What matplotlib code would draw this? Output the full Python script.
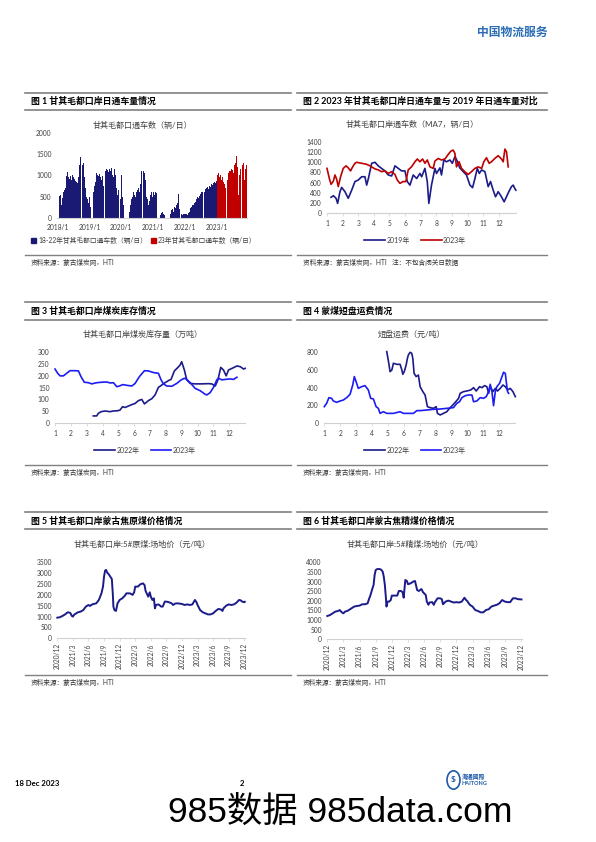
import matplotlib.pyplot as plt
from matplotlib.lines import Line2D
from matplotlib.patches import Circle

plt.rcParams['font.family'] = ['Lato', 'Noto Sans CJK SC', 'DejaVu Sans']

W, H = 596, 842
NAVY = '#1b1b8a'
BAR_NAVY = '#1a1a75'
RED = '#c00000'
BLUE = '#1c1cf5'
RULE = '#808080'
AXIS = '#d0d0d0'
TXT = '#404040'

# ---- fig 1: daily trucks, one value per ten days ----
years = [2018, 2019, 2020, 2021, 2022, 2023]
trucks_2018 = [500, 450, 520, 550, 300, 480, 600, 650, 700, 850, 980, 1080,
               950, 920, 980, 900, 1000, 950, 880, 920, 870, 850, 820, 950,
               1250, 1440, 1350, 1300, 1250, 1280, 950, 700, 500, 450, 350, 300]
trucks_2019 = [500, 250, 0, 0, 600, 750, 850, 1050, 1100, 1000, 980, 1020,
               950, 900, 980, 750, 850, 1050, 1100, 1150, 1120, 1080, 1150, 1100,
               1170, 1080, 1000, 950, 1150, 1000, 700, 550, 650, 850, 700, 450]
trucks_2020 = [1000, 500, 300, 0, 0, 0, 900, 0, 0, 150, 300, 450,
               500, 600, 550, 650, 500, 600, 650, 700, 600, 800, 1100, 1480,
               1200, 1100, 1050, 900, 500, 450, 300, 400, 500, 550, 600, 500]
trucks_2021 = [600, 550, 620, 580, 0, 0, 0, 0, 60, 120, 150, 100,
               60, 0, 0, 0, 0, 0, 0, 100, 180, 200, 230, 150,
               250, 230, 300, 350, 560, 200, 100, 80, 90, 80, 100, 90]
trucks_2022 = [100, 90, 80, 100, 120, 150, 230, 250, 300, 300, 350, 380,
               400, 450, 500, 480, 520, 560, 600, 620, 580, 650, 620, 680,
               700, 720, 680, 750, 720, 780, 800, 780, 820, 850, 830, 870]
trucks_2023 = [1000, 1050, 980, 950, 1000, 900, 950, 850, 800, 700, 600, 750,
               900, 1050, 1100, 1100, 1150, 1130, 1050, 1200, 1250, 1300, 1450, 1200,
               550, 1000, 1150, 1200, 1150, 1250, 1300, 900, 1150, 1250, 1350]
year_labels = ['2018/1', '2019/1', '2020/1', '2021/1', '2022/1', '2023/1']

# ---- fig 2: MA7 trucks, x = month ----
m19 = [1.26, 1.41, 1.58, 1.68, 1.83, 1.94, 2.15, 2.36, 2.58, 2.79, 3.0, 3.22, 3.43, 3.54,
       3.65, 3.86, 4.07, 4.28, 4.49, 4.71, 4.92, 5.14, 5.35, 5.56, 5.78, 5.99, 6.14, 6.31,
       6.52, 6.74, 6.95, 7.06, 7.27, 7.42, 7.52, 7.69, 7.91, 8.01, 8.23, 8.33, 8.48, 8.65,
       8.87, 9.02, 9.19, 9.34, 9.5, 9.72, 9.93, 10.15, 10.32, 10.47, 10.62, 10.75, 10.9,
       11.11, 11.32, 11.47, 11.64, 11.79, 11.96, 12.17, 12.34, 12.49, 12.64, 12.81, 12.92,
       13.02, 13.09]
ma7_2019 = [310, 340, 290, 190, 420, 505, 420, 290, 450, 620, 650, 715, 715, 550,
            680, 980, 1000, 930, 880, 830, 750, 730, 930, 880, 830, 830, 620, 550,
            750, 680, 780, 715, 880, 620, 190, 550, 880, 780, 890, 750, 1045, 1010,
            1045, 980, 1110, 1025, 890, 815, 750, 550, 500, 680, 880, 780, 850,
            815, 520, 620, 450, 320, 420, 320, 220, 320, 420, 520, 550,
            485, 450]
m23 = [1.0, 1.15, 1.26, 1.41, 1.51, 1.62, 1.72, 1.87, 2.04, 2.22, 2.36, 2.51, 2.64, 2.79,
       2.9, 3.22, 3.54, 3.75, 4.07, 4.28, 4.5, 4.71, 4.92, 5.14, 5.35, 5.5, 5.67, 5.88,
       6.05, 6.2, 6.41, 6.63, 6.78, 6.95, 7.12, 7.27, 7.42, 7.59, 7.8, 7.91, 8.12, 8.33,
       8.55, 8.76, 8.93, 9.08, 9.19, 9.29, 9.46, 9.61, 9.82, 10.04, 10.25, 10.47, 10.68,
       10.9, 11.04, 11.21, 11.38, 11.53, 11.74, 11.96, 12.17, 12.28, 12.39, 12.49, 12.6]
ma7_2023 = [880, 680, 565, 630, 750, 665, 520, 715, 880, 930, 890, 830, 910, 980,
            1000, 980, 960, 930, 870, 850, 815, 830, 780, 815, 760, 650, 585, 620,
            620, 850, 910, 1010, 1065, 1010, 1065, 980, 1045, 910, 880, 1025, 1075, 1045,
            1065, 1155, 1220, 1240, 1175, 910, 1010, 880, 815, 760, 815, 880, 910,
            880, 1010, 1090, 980, 1010, 1075, 1130, 1065, 1010, 1260, 1210, 910]

# ---- fig 3: coal stock (10k t) ----
s22_m = [3.42, 3.63, 3.74, 3.91, 4.16, 4.48, 4.69, 4.96, 5.11, 5.26, 5.43, 5.64, 5.85,
         6.06, 6.27, 6.48, 6.65, 6.9, 7.11, 7.32, 7.53, 7.74, 7.95, 8.17, 8.33, 8.54,
         8.75, 8.9, 9.0, 9.17, 9.32, 9.54, 9.85, 10.27, 10.69, 10.9, 11.12, 11.29, 11.47,
         11.64, 11.81, 11.96, 12.28, 12.49, 12.7, 12.91, 13.01]
stock_2022 = [30, 30, 41, 48, 51, 48, 51, 52, 55, 69, 66, 72, 78,
              83, 95, 100, 81, 95, 103, 119, 151, 161, 171, 180, 185, 221,
              235, 246, 260, 225, 183, 168, 166, 166, 167, 166, 157, 183, 236,
              225, 200, 225, 235, 242, 239, 229, 232]
s23_m = [1.0, 1.17, 1.32, 1.53, 1.74, 1.95, 2.26, 2.48, 2.64, 2.85, 3.11, 3.32, 3.64,
         3.95, 4.27, 4.48, 4.69, 4.9, 5.07, 5.28, 5.53, 5.85, 6.06, 6.33, 6.65, 6.9,
         7.22, 7.53, 7.7, 7.85, 8.06, 8.38, 8.69, 8.97, 9.18, 9.32, 9.54, 9.85, 10.17,
         10.48, 10.59, 10.8, 11.01, 11.22, 11.33, 11.54, 11.75, 12.06, 12.27, 12.49]
stock_2023 = [229, 211, 200, 200, 211, 222, 222, 221, 197, 173, 171, 166, 171,
              173, 174, 170, 171, 154, 157, 163, 160, 157, 168, 197, 222, 221,
              214, 211, 183, 166, 157, 156, 168, 183, 190, 185, 171, 147, 137,
              122, 119, 129, 151, 183, 190, 183, 185, 187, 185, 194]

# ---- fig 4: short-haul freight (yuan/t) ----
f22_m = [4.93, 5.04, 5.14, 5.25, 5.35, 5.56, 5.77, 5.88, 5.94, 6.03, 6.15, 6.23, 6.29,
         6.4, 6.5, 6.57, 6.65, 6.78, 6.92, 7.03, 7.2, 7.34, 7.49, 7.66, 7.87, 8.04,
         8.12, 8.29, 8.5, 8.71, 8.88, 9.09, 9.24, 9.45, 9.55, 9.76, 9.97, 10.22, 10.39,
         10.56, 10.77, 10.92, 11.08, 11.23, 11.34, 11.44, 11.61, 11.76, 11.9, 12.07,
         12.24, 12.39, 12.53, 12.7, 12.87, 13.02]
freight_2022 = [808, 694, 581, 600, 676, 664, 664, 600, 551, 581, 656, 732, 770,
                800, 789, 732, 562, 525, 543, 411, 355, 317, 185, 174, 166, 185,
                109, 91, 109, 128, 166, 204, 234, 279, 336, 355, 362, 374, 400,
                362, 411, 400, 423, 411, 336, 411, 355, 392, 362, 392,
                430, 411, 374, 392, 355, 298]
f23_m = [1.0, 1.15, 1.29, 1.46, 1.57, 1.78, 1.99, 2.2, 2.41, 2.62, 2.79, 2.89, 3.0,
         3.14, 3.35, 3.56, 3.77, 3.92, 4.09, 4.26, 4.4, 4.51, 4.72, 4.93, 5.35, 5.77,
         5.98, 6.4, 6.61, 6.82, 7.03, 7.45, 7.87, 8.29, 8.71, 9.13, 9.34, 9.51, 9.66,
         9.87, 10.08, 10.29, 10.39, 10.6, 10.81, 11.02, 11.19, 11.34, 11.44, 11.55,
         11.65, 11.76, 11.86, 12.03, 12.18, 12.28, 12.39, 12.45, 12.53, 12.6]
freight_2023 = [185, 223, 287, 279, 249, 234, 249, 260, 287, 325, 430, 525, 468,
                392, 411, 423, 374, 279, 272, 185, 166, 109, 128, 109, 109, 128,
                109, 109, 109, 140, 140, 147, 155, 158, 166, 174, 223, 241, 287,
                309, 317, 317, 241, 249, 287, 279, 298, 355, 438, 355,
                196, 355, 411, 449, 525, 574, 562, 468, 355, 336]

# ---- fig 5 / 6: prices, x = months since 2020/12 ----
date_labels = ['2020/12', '2021/3', '2021/6', '2021/9', '2021/12', '2022/3', '2022/6',
               '2022/9', '2022/12', '2023/3', '2023/6', '2023/9', '2023/12']
raw_m = [0, 0.5, 1, 1.5, 2, 2.5, 2.8, 3, 3.3, 4, 4.5, 5, 5.5, 6, 6.3, 6.7, 7, 7.5,
         8, 8.5, 8.8, 9, 9.2, 9.4, 9.6, 9.9, 10.2, 10.5, 10.7, 10.8, 11, 11.3, 11.6, 12,
         12.5, 13, 13.3, 14, 14.5, 14.8, 15, 15.5, 16, 16.5, 16.8, 17, 17.5, 17.8, 18,
         18.3, 18.6, 18.8, 19, 19.5, 20, 20.3, 20.7, 21, 21.5, 22, 22.3, 22.7, 23, 23.5,
         24, 24.5, 25, 25.5, 26, 26.5, 26.8, 27, 27.5, 28, 28.5, 29, 29.5, 30, 30.5, 31,
         31.5, 31.8, 32, 32.5, 33, 33.5, 34, 34.5, 35, 35.3, 35.6, 36.0, 36.1]
raw_price = [950, 970, 1030, 1100, 1200, 1170, 1030, 1000, 1100, 1200, 1230, 1300, 1460,
             1535, 1490, 1560, 1580, 1610, 1765, 2070, 2380, 2840, 3120, 3150, 3030, 2950,
             2840, 2730, 2000, 1460, 1300, 1260, 1610, 1765, 1840, 1960, 2070, 2070, 2000,
             2120, 2380, 2380, 2490, 2530, 2450, 2180, 1920, 2120, 1920, 1765, 1840, 1380,
             1535, 1560, 1460, 1460, 1690, 1690, 1660, 1610, 1535, 1600, 1610, 1600, 1580,
             1535, 1560, 1535, 1560, 1765, 1660, 1535, 1300, 1200, 1150, 1100, 1100, 1150,
             1260, 1350, 1330, 1260, 1380, 1500, 1560, 1535, 1560, 1640, 1765, 1750, 1690,
             1660, 1680]
clean_m = [0, 0.5, 1, 1.5, 2, 2.3, 2.7, 3, 3.3, 3.7, 4, 4.5, 5, 5.5, 6, 6.5, 7, 7.5,
           7.8, 8, 8.3, 8.6, 8.8, 9, 9.3, 9.7, 10, 10.3, 10.5, 10.7, 10.9, 11, 11.2, 11.5,
           11.8, 12, 12.5, 13, 13.3, 13.7, 14, 14.2, 14.5, 14.8, 15, 15.5, 16, 16.3, 16.7,
           17, 17.5, 17.8, 18, 18.3, 18.5, 18.8, 19, 19.5, 19.8, 20, 20.5, 21, 21.3, 21.5,
           22, 22.5, 23, 23.5, 24, 24.5, 25, 25.5, 25.8, 26, 26.5, 27, 27.5, 28, 28.5, 29,
           29.5, 30, 30.5, 31, 31.5, 32, 32.5, 33, 33.5, 34, 34.5, 35, 35.5, 35.8, 36.1]
clean_price = [1210, 1260, 1350, 1440, 1470, 1520, 1400, 1350, 1440, 1470, 1520, 1610,
               1700, 1730, 1750, 1820, 1820, 1870, 2130, 2270, 2560, 2820, 3340, 3600,
               3650, 3650, 3620, 3510, 3250, 2820, 2130, 1700, 1960, 1960, 2040, 2270,
               2270, 2270, 2510, 2510, 2440, 2160, 3080, 3030, 2860, 2910, 3000, 3030,
               2560, 2510, 2610, 2440, 2390, 2300, 1960, 1790, 1910, 1930, 1790, 1930,
               2130, 2130, 2080, 1820, 1960, 2010, 1960, 1910, 1930, 1910, 1960, 2160,
               2040, 1990, 1790, 1700, 1520, 1470, 1400, 1400, 1520, 1560, 1700, 1750,
               1790, 1870, 2040, 1960, 1930, 1930, 2130, 2130, 2080, 2080, 2070]

month_ticks = list(range(1, 13))


fig = plt.figure(figsize=(W / 100, H / 100), dpi=100)


def fx(x):
    return x / W


def fy(y):
    return 1 - y / H


def add_ax(l, t, r, b):
    return fig.add_axes([l / W, 1 - b / H, (r - l) / W, (b - t) / H])


def rule(x0, x1, y, lw=1.0):
    fig.add_artist(Line2D([fx(x0), fx(x1)], [fy(y), fy(y)], lw=lw, color=RULE))


def ftext(x, y, s, **kw):
    kw.setdefault('va', 'center')
    fig.text(fx(x), fy(y), s, **kw)


def style_ax(ax, ymax, ystep):
    ax.set_ylim(0, ymax)
    ax.set_yticks(range(0, ymax + 1, ystep))
    for s in ('top', 'right', 'left'):
        ax.spines[s].set_visible(False)
    ax.spines['bottom'].set_color(AXIS)
    ax.spines['bottom'].set_linewidth(0.8)
    ax.tick_params(axis='y', length=0, pad=4, labelsize=4.8, labelcolor=TXT)
    ax.tick_params(axis='x', length=2, width=0.5, color=AXIS, pad=3,
                   labelsize=4.8, labelcolor=TXT)
    ax.patch.set_alpha(0)


def panel(x0, x1, top, title, bottom, source):
    rule(x0, x1, top, 1.2)
    ftext(x0 + 6, top + 9, title, fontsize=6.4, fontweight='bold', color='black')
    rule(x0, x1, top + 17, 1.2)
    rule(x0, x1, bottom, 1.0)
    ftext(x0 + 6, bottom + 7, source, fontsize=4.8, color='#333333')


def month_legend(ax, lines, labels, cx, cy):
    ax.legend(lines, labels, loc='center', bbox_to_anchor=(fx(cx), fy(cy)),
              bbox_transform=fig.transFigure, ncol=2, frameon=False, fontsize=5,
              handlelength=3.0, handletextpad=0.2, columnspacing=1.6,
              labelcolor=TXT)


# header
ftext(548, 32, '中国物流服务', fontsize=8.5, fontweight='bold', color='#2a6db5', ha='right')

# ---------- figure 1 ----------
panel(25, 291, 92.5, '图 1 甘其毛都口岸日通车量情况', 255, '资料来源：蒙古煤炭网，HTI')
ftext(142, 125, '甘其毛都口通车数（辆/日）', fontsize=5.8, color=TXT, ha='center')
ax1 = add_ax(57, 132.7, 247, 218)
series = [trucks_2018, trucks_2019, trucks_2020, trucks_2021, trucks_2022, trucks_2023]
for yr, vals in zip(years, series):
    xs = [yr + (k + 0.5) / 36 for k in range(len(vals))]
    ax1.bar(xs, vals, width=0.95 / 36, color=RED if yr == 2023 else BAR_NAVY,
            linewidth=0)
ax1.set_xlim(2017.98, 2023.95)
ax1.set_xticks(years)
ax1.set_xticklabels(year_labels)
style_ax(ax1, 2000, 500)
ax1.tick_params(axis='x', length=0, pad=4)
h_old = plt.Rectangle((0, 0), 1, 1, color=BAR_NAVY)
h_new = plt.Rectangle((0, 0), 1, 1, color=RED)
ax1.legend([h_old, h_new], ['18-22年甘其毛都口通车数（辆/日）', '23年甘其毛都口通车数（辆/日）'],
           loc='center', bbox_to_anchor=(fx(144), fy(240)), bbox_transform=fig.transFigure,
           ncol=2, frameon=False, fontsize=4.9, handlelength=0.7, handleheight=0.8,
           handletextpad=0.3, columnspacing=0.6, labelcolor=TXT)

# ---------- figure 2 ----------
panel(297, 547, 92.5, '图 2 2023 年甘其毛都口岸日通车量与 2019 年日通车量对比', 255,
      '资料来源：蒙古煤炭网，HTI   注：不包含闭关日数据')
ftext(412, 124, '甘其毛都口岸通车数（MA7，辆/日）', fontsize=5.8, color=TXT, ha='center')
ax2 = add_ax(327, 142, 516, 213)
l19, = ax2.plot(m19, ma7_2019, color=NAVY, lw=1.2, clip_on=False)
l23, = ax2.plot(m23, ma7_2023, color=RED, lw=1.2, clip_on=False)
ax2.set_xlim(1, 13.1)
ax2.set_xticks(month_ticks)
style_ax(ax2, 1400, 200)
month_legend(ax2, [l19, l23], ['2019年', '2023年'], 415, 240)

# ---------- figure 3 ----------
panel(25, 291, 302.5, '图 3 甘其毛都口岸煤炭库存情况', 465, '资料来源：蒙古煤炭网，HTI')
ftext(143, 334, '甘其毛都口岸煤炭库存量（万吨）', fontsize=5.8, color=TXT, ha='center')
ax3 = add_ax(55, 352.3, 245, 423)
l22, = ax3.plot(s22_m, stock_2022, color=NAVY, lw=1.2, clip_on=False)
l23b, = ax3.plot(s23_m, stock_2023, color=BLUE, lw=1.2, clip_on=False)
ax3.set_xlim(1, 13)
ax3.set_xticks(month_ticks)
style_ax(ax3, 300, 50)
month_legend(ax3, [l22, l23b], ['2022年', '2023年'], 145, 450)

# ---------- figure 4 ----------
panel(297, 547, 302.5, '图 4 蒙煤短盘运费情况', 465, '资料来源：蒙古煤炭网，HTI')
ftext(412, 334, '短盘运费（元/吨）', fontsize=5.8, color=TXT, ha='center')
ax4 = add_ax(324.3, 352.3, 515, 423)
f22, = ax4.plot(f22_m, freight_2022, color=NAVY, lw=1.2, clip_on=False)
f23, = ax4.plot(f23_m, freight_2023, color=BLUE, lw=1.2, clip_on=False)
ax4.set_xlim(1, 13)
ax4.set_xticks(month_ticks)
style_ax(ax4, 800, 200)
month_legend(ax4, [f22, f23], ['2022年', '2023年'], 415, 450)

# ---------- figure 5 ----------
panel(25, 291, 512, '图 5 甘其毛都口岸蒙古焦原煤价格情况', 675, '资料来源：蒙古煤炭网，HTI')
ftext(142, 544, '甘其毛都口岸:5#原煤:场地价（元/吨）', fontsize=5.8, color=TXT, ha='center')
ax5 = add_ax(57.3, 562.3, 244.8, 638.3)
ax5.plot(raw_m, raw_price, color=NAVY, lw=1.4, clip_on=False)
ax5.set_xlim(0, 36.1)
ax5.set_xticks(range(0, 37, 3))
ax5.set_xticklabels(date_labels, rotation=90)
style_ax(ax5, 3500, 500)
ax5.tick_params(axis='x', pad=1.5)

# ---------- figure 6 ----------
panel(297, 547, 512, '图 6 甘其毛都口岸蒙古焦精煤价格情况', 675, '资料来源：蒙古煤炭网，HTI')
ftext(415, 544, '甘其毛都口岸:5#精煤:场地价（元/吨）', fontsize=5.8, color=TXT, ha='center')
ax6 = add_ax(327.3, 562.3, 521.5, 639.3)
ax6.plot(clean_m, clean_price, color=NAVY, lw=1.4, clip_on=False)
ax6.set_xlim(0, 36.1)
ax6.set_xticks(range(0, 37, 3))
ax6.set_xticklabels(date_labels, rotation=90)
style_ax(ax6, 4000, 500)
ax6.tick_params(axis='x', pad=1.5)

# ---------- footer ----------
ftext(15, 783, '18 Dec 2023', fontsize=5.6, fontweight='bold', color='black')
ftext(242, 783, '2', fontsize=5.6, fontweight='bold', color='black', ha='center')
logo = Circle((fx(453.5), fy(780)), 6.5 / W, transform=fig.transFigure,
              facecolor='white', edgecolor='#1f5aa8', lw=1.2)
fig.add_artist(logo)
ftext(453.5, 780, '$', fontsize=6, fontweight='bold', color='#1f5aa8', ha='center')
ftext(462, 776.5, '海通國際', fontsize=4.2, color='#1f5aa8', fontweight='bold')
ftext(462, 783.5, 'HAITONG', fontsize=4.0, color='#1f5aa8', fontweight='bold')

ftext(340, 812, '985数据 985data.com', fontsize=25.5, color='black', ha='center',
      family=['Liberation Sans', 'Noto Sans CJK SC', 'DejaVu Sans'])

fig.savefig('out.png', dpi=100)
